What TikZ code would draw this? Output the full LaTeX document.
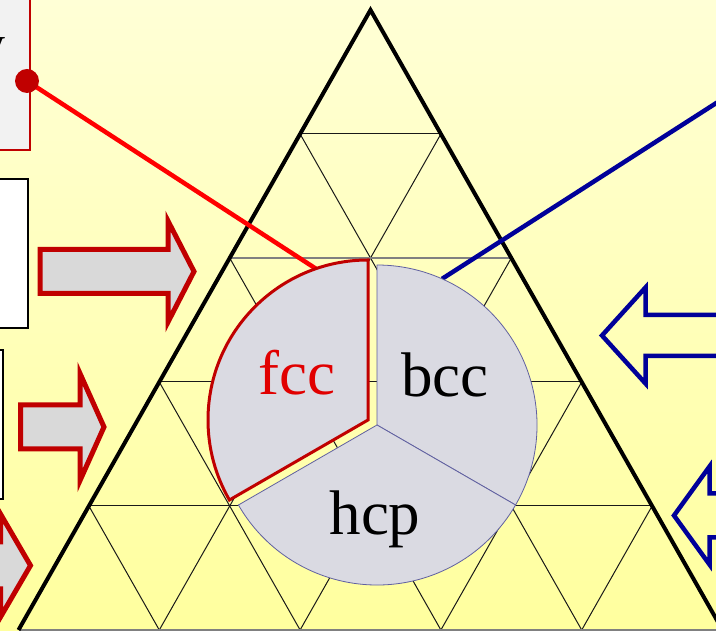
\documentclass[tikz,border=0pt]{standalone}
\usepackage{fontspec}
\setmainfont{Liberation Serif}
\usetikzlibrary{calc}
\definecolor{PaleYellow}{RGB}{255,255,214}
\definecolor{DeepYellow}{RGB}{255,255,158}
\definecolor{SliceGray}{RGB}{218,218,226}
\definecolor{SliceEdge}{RGB}{96,96,160}
\definecolor{DarkRed}{RGB}{192,0,0}
\definecolor{LabelRed}{RGB}{225,0,0}
\definecolor{NavyBlue}{RGB}{0,0,153}
\definecolor{ArrowGray}{RGB}{217,217,217}
\definecolor{PanelGray}{RGB}{242,242,242}

\begin{document}
\begin{tikzpicture}[x=1pt, y=1pt,
    grid/.style={black!90, line width=1pt},
    slice/.style={fill=SliceGray, draw=SliceEdge, line width=0.8pt},
    redblock/.style={draw=DarkRed, fill=ArrowGray, line width=5pt, line join=miter},
    blueblock/.style={draw=NavyBlue, line width=4.5pt, line join=miter},
    phase/.style={font=\fontsize{63}{70}\selectfont, inner sep=0pt, anchor=base}]

    % Background
    \useasboundingbox (0,0) rectangle (716,631);
    \shade[top color=PaleYellow, bottom color=DeepYellow] (0,0) rectangle (716,631);

    % Triangular grid (5 rows), apex at (370.5,621)
    \def\ax{70.4}
    \def\hy{124}
    \foreach \k in {1,...,4} {
      \draw[grid] (370.5+\k*\ax, 621-\k*\hy) -- (370.5+2*\k*\ax-5*\ax, 1);
      \draw[grid] (370.5-\k*\ax, 621-\k*\hy) -- (370.5+5*\ax-2*\k*\ax, 1);
    }
    \foreach \k in {1,3,4}
      \draw[grid] (370.5-\k*\ax, 621-\k*\hy) -- (370.5+\k*\ax, 621-\k*\hy);
    \draw[gray, line width=1.8pt] (370.5-2*\ax, 621-2*\hy) -- (370.5+2*\ax, 621-2*\hy);
    \draw[gray, line width=2pt] (370.5-5*\ax, 1) -- (370.5+5*\ax, 1);

    % Outer triangle
    \draw[line width=4pt, line join=miter] (370.5-5*\ax, 1) -- (370.5, 621) -- (370.5+5*\ax, 1);

    % Panels on the left
    \draw[DarkRed, fill=PanelGray, line width=1.5pt] (-10,481) rectangle (30,640);
    \node[font=\fontsize{50}{56}\selectfont, anchor=base east, inner sep=0pt] (panelchar) at (6,570.5) {y};
    \draw[fill=white, line width=1.5pt] (-10,303) rectangle (28,452);
    \draw[fill=white, line width=1.5pt] (-10,132) rectangle (3,281);

    % Block arrows pointing into the triangle
    \draw[redblock] (40,381.5) -- (168,381.5) -- (168,410) -- (194,359.5) -- (168,309) -- (168,337.5) -- (40,337.5) -- cycle;
    \draw[redblock] (20.5,226) -- (80,226) -- (80,257.5) -- (104,204) -- (80,150.5) -- (80,182) -- (20.5,182) -- cycle;
    \draw[redblock] (-60,89) -- (0.5,89) -- (0.5,117) -- (30.5,65.5) -- (0.5,14) -- (0.5,42) -- (-60,42) -- cycle;
    \draw[blueblock] (760,316) -- (645.5,316) -- (645.5,343.5) -- (602,295.5) -- (645.5,247.5) -- (645.5,275) -- (760,275);
    \draw[blueblock] (760,137.5) -- (709.5,137.5) -- (709.5,164.5) -- (674,115.5) -- (709.5,66.5) -- (709.5,93.5) -- (760,93.5);

    % Pie centres and connector ends
    \coordinate (pie) at (377,206);
    \coordinate (fccc) at (368,211);
    \coordinate (fccend) at ($(fccc)+(109:160)$);
    \coordinate (bccend) at ($(pie)+(66:160)$);
    \coordinate (bluefar) at (760,556);

    % Connectors
    \draw[red, line width=4.5pt] (27,550) -- (fccend);
    \draw[NavyBlue, line width=4.5pt] (bccend) -- (bluefar);
    \node[circle, fill=DarkRed, minimum size=24pt, inner sep=0pt] (fccdot) at (27,550) {};

    % Pie of phases
    \draw[slice] (pie) -- ++(-30:160) arc[start angle=-30, end angle=90, radius=160] -- cycle;
    \draw[slice] (pie) -- ++(210:160) arc[start angle=210, end angle=330, radius=160] -- cycle;
    \draw[slice, draw=DarkRed, line width=3pt] (fccc) -- ++(90:160) arc[start angle=90, end angle=210, radius=160] -- cycle;

    \node[phase, LabelRed] (fcclabel) at (297,236) {fcc};
    \node[phase] (bcclabel) at (445,234) {bcc};
    \node[phase] (hcplabel) at (375,96) {hcp};
\end{tikzpicture}
\end{document}
